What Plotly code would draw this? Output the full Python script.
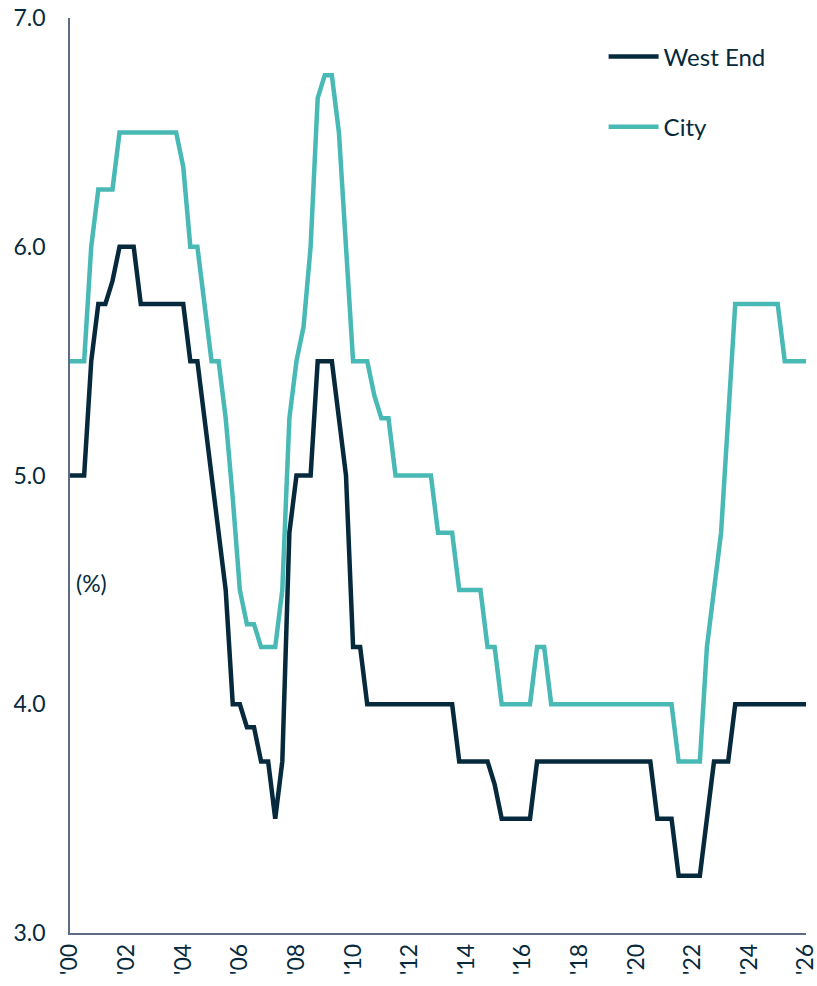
import plotly.graph_objects as go

# Quarterly periods, 2000 Q1 .. 2026 Q1
quarters = [f"{y} Q{q}" for y in range(2000, 2027) for q in range(1, 5)][:105]

west_end = [
    5.0, 5.0, 5.0, 5.5, 5.75, 5.75, 5.85, 6.0, 6.0, 6.0,
    5.75, 5.75, 5.75, 5.75, 5.75, 5.75, 5.75, 5.5, 5.5, 5.25,
    5.0, 4.75, 4.5, 4.0, 4.0, 3.9, 3.9, 3.75, 3.75, 3.5,
    3.75, 4.75, 5.0, 5.0, 5.0, 5.5, 5.5, 5.5, 5.25, 5.0,
    4.25, 4.25, 4.0, 4.0, 4.0, 4.0, 4.0, 4.0, 4.0, 4.0,
    4.0, 4.0, 4.0, 4.0, 4.0, 3.75, 3.75, 3.75, 3.75, 3.75,
    3.65, 3.5, 3.5, 3.5, 3.5, 3.5, 3.75, 3.75, 3.75, 3.75,
    3.75, 3.75, 3.75, 3.75, 3.75, 3.75, 3.75, 3.75, 3.75, 3.75,
    3.75, 3.75, 3.75, 3.5, 3.5, 3.5, 3.25, 3.25, 3.25, 3.25,
    3.5, 3.75, 3.75, 3.75, 4.0, 4.0, 4.0, 4.0, 4.0, 4.0,
    4.0, 4.0, 4.0, 4.0, 4.0,
]

city = [
    5.5, 5.5, 5.5, 6.0, 6.25, 6.25, 6.25, 6.5, 6.5, 6.5,
    6.5, 6.5, 6.5, 6.5, 6.5, 6.5, 6.35, 6.0, 6.0, 5.75,
    5.5, 5.5, 5.25, 4.9, 4.5, 4.35, 4.35, 4.25, 4.25, 4.25,
    4.5, 5.25, 5.5, 5.65, 6.0, 6.65, 6.75, 6.75, 6.5, 6.0,
    5.5, 5.5, 5.5, 5.35, 5.25, 5.25, 5.0, 5.0, 5.0, 5.0,
    5.0, 5.0, 4.75, 4.75, 4.75, 4.5, 4.5, 4.5, 4.5, 4.25,
    4.25, 4.0, 4.0, 4.0, 4.0, 4.0, 4.25, 4.25, 4.0, 4.0,
    4.0, 4.0, 4.0, 4.0, 4.0, 4.0, 4.0, 4.0, 4.0, 4.0,
    4.0, 4.0, 4.0, 4.0, 4.0, 4.0, 3.75, 3.75, 3.75, 3.75,
    4.25, 4.5, 4.75, 5.25, 5.75, 5.75, 5.75, 5.75, 5.75, 5.75,
    5.75, 5.5, 5.5, 5.5, 5.5,
]

tick_labels = ["'00", "'02", "'04", "'06", "'08", "'10", "'12", "'14",
               "'16", "'18", "'20", "'22", "'24", "'26"]
y_ticks = [3.0, 4.0, 5.0, 6.0, 7.0]

DARK = "#062a3c"
TEAL = "#48b9b5"
AXIS = "#5d6b88"
FONT = "Lato"

fig = go.Figure()
fig.add_trace(go.Scatter(x=quarters, y=west_end, name="West End", mode="lines",
                         line=dict(color=DARK, width=4.5), legendgroup="a"))
fig.add_trace(go.Scatter(x=quarters, y=city, name="City", mode="lines",
                         line=dict(color=TEAL, width=4.5), legendgroup="b"))

fig.update_layout(
    width=817, height=986,
    margin=dict(l=70, r=11, t=18, b=53),
    paper_bgcolor="white", plot_bgcolor="white",
    font=dict(family=FONT, color=DARK, size=23),
    showlegend=True,
    legend=dict(x=0.725, y=0.982, xanchor="left", yanchor="top",
                font=dict(family=FONT, size=24, color=DARK),
                tracegroupgap=36, itemwidth=50, bgcolor="rgba(0,0,0,0)"),
    xaxis=dict(type="category", range=[0, 104], automargin=False,
               tickmode="array", tickvals=quarters[::8], ticktext=tick_labels,
               tickangle=-90, showgrid=False, zeroline=False,
               showline=True, linecolor=AXIS, linewidth=1.5,
               ticks="", tickfont=dict(family=FONT, size=23, color=DARK)),
    yaxis=dict(range=[3, 7], tickmode="array", tickvals=y_ticks, automargin=False,
               tickformat=".1f", showgrid=False, zeroline=False,
               showline=True, linecolor=AXIS, linewidth=1.5,
               ticks="", ticklabelstandoff=18,
               tickfont=dict(family=FONT, size=23, color=DARK)),
    annotations=[dict(text="(%)", xref="paper", yref="y", x=0, y=4.53,
                      xanchor="left", yanchor="middle", xshift=4,
                      showarrow=False, font=dict(family=FONT, size=23, color=DARK))],
)

fig.write_html("out.html", config={"displayModeBar": False},
               post_script="document.body.style.margin='0';document.body.style.overflow='hidden';")
